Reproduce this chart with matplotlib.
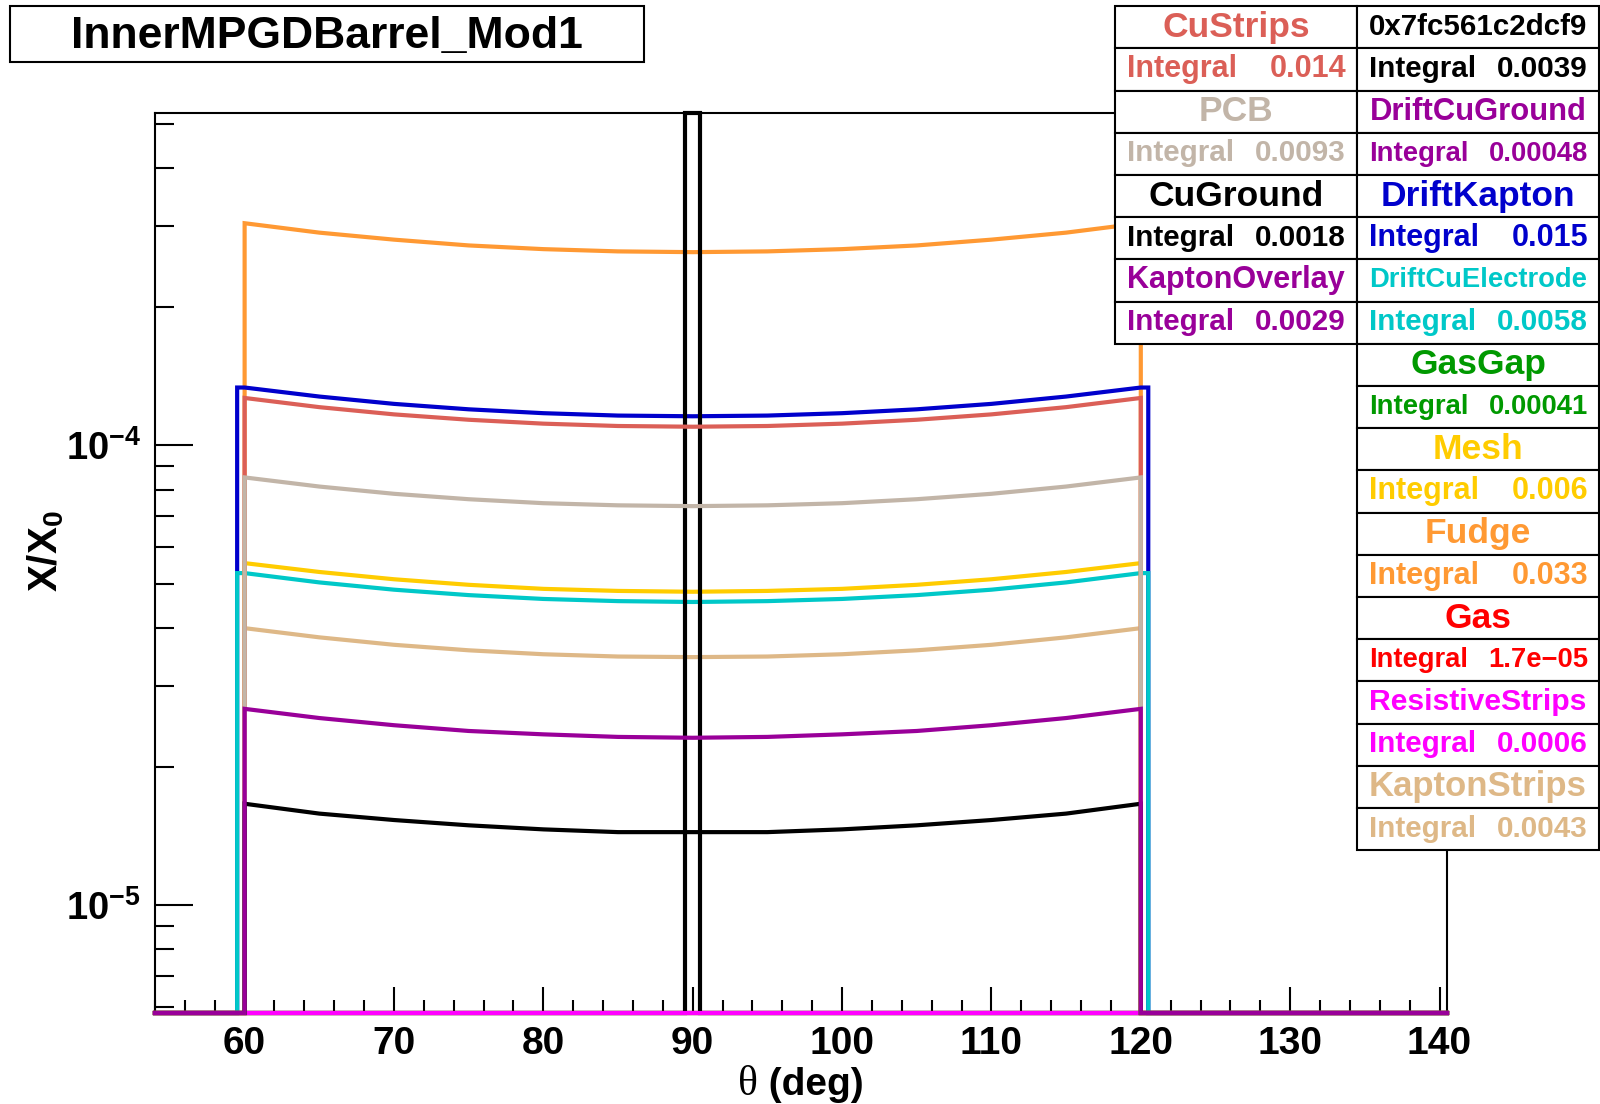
import numpy as np
import matplotlib
matplotlib.use("Agg")
import matplotlib.pyplot as plt
from matplotlib.patches import Rectangle
from matplotlib.ticker import LogLocator, NullFormatter, FuncFormatter, MultipleLocator

plt.rcParams['font.family'] = ['Liberation Sans', 'DejaVu Sans']
plt.rcParams['font.weight'] = 'bold'
plt.rcParams['mathtext.fontset'] = 'custom'
plt.rcParams['mathtext.bf'] = 'Liberation Sans:bold'
plt.rcParams['mathtext.rm'] = 'Liberation Sans:bold'
plt.rcParams['mathtext.it'] = 'Liberation Sans:bold'
plt.rcParams['mathtext.default'] = 'bf'

# ---- data (X/X0 per bin, theta in deg) ----
theta = [60, 65, 70, 75, 80, 85, 90, 95, 100, 105, 110, 115, 120]

fudge = [3.04e-4, 2.90e-4, 2.80e-4, 2.72e-4, 2.67e-4, 2.64e-4, 2.63e-4,
         2.64e-4, 2.67e-4, 2.72e-4, 2.80e-4, 2.90e-4, 3.04e-4]
drift_kapton = [1.335e-4, 1.276e-4, 1.230e-4, 1.197e-4, 1.174e-4, 1.160e-4, 1.156e-4,
                1.160e-4, 1.174e-4, 1.197e-4, 1.230e-4, 1.276e-4, 1.335e-4]
cu_strips = [1.267e-4, 1.210e-4, 1.167e-4, 1.136e-4, 1.114e-4, 1.101e-4, 1.097e-4,
             1.101e-4, 1.114e-4, 1.136e-4, 1.167e-4, 1.210e-4, 1.267e-4]
pcb = [8.51e-5, 8.13e-5, 7.84e-5, 7.63e-5, 7.48e-5, 7.40e-5, 7.37e-5,
       7.40e-5, 7.48e-5, 7.63e-5, 7.84e-5, 8.13e-5, 8.51e-5]
mesh = [5.54e-5, 5.30e-5, 5.11e-5, 4.97e-5, 4.87e-5, 4.82e-5, 4.80e-5,
        4.82e-5, 4.87e-5, 4.97e-5, 5.11e-5, 5.30e-5, 5.54e-5]
drift_cu_electrode = [5.27e-5, 5.03e-5, 4.85e-5, 4.72e-5, 4.63e-5, 4.58e-5, 4.56e-5,
                      4.58e-5, 4.63e-5, 4.72e-5, 4.85e-5, 5.03e-5, 5.27e-5]
kapton_strips = [4.00e-5, 3.82e-5, 3.68e-5, 3.58e-5, 3.51e-5, 3.47e-5, 3.46e-5,
                 3.47e-5, 3.51e-5, 3.58e-5, 3.68e-5, 3.82e-5, 4.00e-5]
kapton_overlay = [2.67e-5, 2.55e-5, 2.46e-5, 2.39e-5, 2.35e-5, 2.32e-5, 2.31e-5,
                  2.32e-5, 2.35e-5, 2.39e-5, 2.46e-5, 2.55e-5, 2.67e-5]
cu_ground = [1.66e-5, 1.58e-5, 1.53e-5, 1.49e-5, 1.46e-5, 1.44e-5, 1.44e-5,
             1.44e-5, 1.46e-5, 1.49e-5, 1.53e-5, 1.58e-5, 1.66e-5]
resistive_strips = [5.5e-6, 5.3e-6, 5.1e-6, 5.0e-6, 4.9e-6, 4.8e-6, 4.8e-6,
                    4.8e-6, 4.9e-6, 5.0e-6, 5.1e-6, 5.3e-6, 5.5e-6]
drift_cu_ground = [4.6e-6, 4.4e-6, 4.2e-6, 4.1e-6, 4.0e-6, 4.0e-6, 4.0e-6,
                   4.0e-6, 4.0e-6, 4.1e-6, 4.2e-6, 4.4e-6, 4.6e-6]
gas_gap = [3.9e-6, 3.7e-6, 3.6e-6, 3.5e-6, 3.4e-6, 3.4e-6, 3.4e-6,
           3.4e-6, 3.4e-6, 3.5e-6, 3.6e-6, 3.7e-6, 3.9e-6]
gas = [1.6e-7, 1.5e-7, 1.5e-7, 1.4e-7, 1.4e-7, 1.4e-7, 1.4e-7,
       1.4e-7, 1.4e-7, 1.4e-7, 1.5e-7, 1.5e-7, 1.6e-7]
# single-bin histogram at 90 deg
dcf9_bin = [89.5, 90.5]
dcf9_value = 0.0039

left_names = ["CuStrips", "PCB", "CuGround", "KaptonOverlay"]
right_names = ["0x7fc561c2dcf9", "DriftCuGround", "DriftKapton", "DriftCuElectrode",
               "GasGap", "Mesh", "Fudge", "Gas", "ResistiveStrips", "KaptonStrips"]
integrals = {"CuStrips": "0.014", "PCB": "0.0093", "CuGround": "0.0018",
             "KaptonOverlay": "0.0029", "0x7fc561c2dcf9": "0.0039",
             "DriftCuGround": "0.00048", "DriftKapton": "0.015",
             "DriftCuElectrode": "0.0058", "GasGap": "0.00041", "Mesh": "0.006",
             "Fudge": "0.033", "Gas": "1.7e\u221205", "ResistiveStrips": "0.0006",
             "KaptonStrips": "0.0043"}
colors = {"CuStrips": "#db5f57", "PCB": "#c2b5a8", "CuGround": "black",
          "KaptonOverlay": "#990099", "0x7fc561c2dcf9": "black",
          "DriftCuGround": "#990099", "DriftKapton": "#0000cc",
          "DriftCuElectrode": "#00c8c8", "GasGap": "#009900", "Mesh": "#ffcc00",
          "Fudge": "#ff9933", "Gas": "#ff0000", "ResistiveStrips": "#ff00ff",
          "KaptonStrips": "#deb887"}

# draw order, values, bin range
hists = [("Fudge", fudge, 60, 120),
         ("DriftKapton", drift_kapton, 59.5, 120.5),
         ("DriftCuElectrode", drift_cu_electrode, 59.5, 120.5),
         ("Mesh", mesh, 60, 120),
         ("KaptonStrips", kapton_strips, 60, 120),
         ("GasGap", gas_gap, 60, 120),
         ("DriftCuGround", drift_cu_ground, 60, 120),
         ("Gas", gas, 60, 120),
         ("0x7fc561c2dcf9", None, dcf9_bin[0], dcf9_bin[1]),
         ("ResistiveStrips", resistive_strips, 60, 120),
         ("CuStrips", cu_strips, 60, 120),
         ("PCB", pcb, 60, 120),
         ("CuGround", cu_ground, 60, 120),
         ("KaptonOverlay", kapton_overlay, 60, 120)]

W, H = 1600, 1104
XMIN, XMAX = 54.0, 140.5
YMIN, YMAX = 5.82e-6, 5.28e-4

def fx(px):
    return px / W

def fy(py):
    return 1 - py / H

fig = plt.figure(figsize=(W / 100, H / 100), dpi=100)
ax = fig.add_axes([fx(155), fy(1013), fx(1447) - fx(155), fy(113) - fy(1013)])
ax.set_yscale("log")
ax.set_xlim(XMIN, XMAX)
ax.set_ylim(YMIN, YMAX)

for name, vals, lo, hi in hists:
    if vals is None:
        x = [XMIN, lo, lo, hi, hi, XMAX]
        y = [0, 0, dcf9_value, dcf9_value, 0, 0]
    else:
        x = [XMIN, lo, lo] + list(theta) + [hi, hi, XMAX]
        y = [0, 0, vals[0]] + list(vals) + [vals[-1], 0, 0]
    y = np.clip(np.array(y, dtype=float), YMIN, YMAX)
    ax.plot(x, y, color=colors[name], lw=3, clip_on=False, zorder=3,
            solid_joinstyle="miter")

for sp in ax.spines.values():
    sp.set_linewidth(1.5)

ax.xaxis.set_major_locator(MultipleLocator(10))
ax.xaxis.set_minor_locator(MultipleLocator(2))
ax.yaxis.set_major_locator(LogLocator(base=10, numticks=10))
ax.yaxis.set_minor_locator(LogLocator(base=10, subs=np.arange(2, 10), numticks=20))
ax.yaxis.set_minor_formatter(NullFormatter())
ax.yaxis.set_major_formatter(FuncFormatter(lambda v, p: r"$10^{%d}$" % round(np.log10(v))))
ax.tick_params(axis="x", which="major", direction="in", length=19, width=1.5,
               labelsize=28, pad=9, top=False)
ax.tick_params(axis="x", which="minor", direction="in", length=9.6, width=1.5, top=False)
ax.tick_params(axis="y", which="major", direction="in", length=27, width=1.5,
               labelsize=27.5, pad=10, right=False)
ax.tick_params(axis="y", which="minor", direction="in", length=13.7, width=1.5, right=False)

renderer = fig.canvas.get_renderer()

def text_width(s, size, **kw):
    t = fig.text(0, 0, s, fontsize=size, **kw)
    w = t.get_window_extent(renderer).width
    t.remove()
    return w

# axis titles: serif theta followed by bold "(deg)"
xl_size = 28
w_th = text_width("\u03b8", 30, family="Liberation Serif", fontweight="normal")
w_rest = text_width(" (deg)", xl_size)
x_start = 801 - (w_th + w_rest) / 2
fig.text(fx(x_start), fy(1095), "\u03b8", ha="left", va="baseline", fontsize=30,
         family="Liberation Serif", fontweight="normal")
fig.text(fx(x_start + w_th), fy(1095), " (deg)", ha="left", va="baseline",
         fontsize=xl_size)
fig.text(fx(46), fy(551), "X/X$_{0}$", rotation=90, ha="center", va="center",
         fontsize=29)

# title box
fig.add_artist(Rectangle((fx(10), fy(62)), (644 - 10) / W, (62 - 6) / H,
                         transform=fig.transFigure, facecolor="white",
                         edgecolor="black", lw=1.5))
fig.text(fx(327), fy(48), "InnerMPGDBarrel_Mod1", ha="center", va="baseline",
         fontsize=32)

# stats boxes
ROW = 42.2
COLW = 242
TOP = 6.1

def row_box(x0, y0):
    fig.add_artist(Rectangle((fx(x0), fy(y0 + ROW)), COLW / W, ROW / H,
                             transform=fig.transFigure, facecolor="white",
                             edgecolor="black", lw=1.5, zorder=4))

def baseline(y0, size):
    em = size * 100 / 72
    return y0 + ROW / 2 + 0.358 * em - 3

def draw_column(names, x0):
    for i, name in enumerate(names):
        c = colors[name]
        y_name = TOP + 2 * i * ROW
        y_int = y_name + ROW
        row_box(x0, y_name)
        row_box(x0, y_int)
        s = min(25.5, 10 * 218 / text_width(name, 10))
        fig.text(fx(x0 + COLW / 2), fy(baseline(y_name, s)), name, ha="center",
                 va="baseline", fontsize=s, color=c, zorder=5)
        val = integrals[name]
        gap = 0.7 * 10 * 100 / 72
        s = min(22, 10 * 219 / (text_width("Integral", 10) + text_width(val, 10) + gap))
        yb = fy(baseline(y_int, s))
        fig.text(fx(x0 + 12), yb, "Integral", ha="left", va="baseline",
                 fontsize=s, color=c, zorder=5)
        fig.text(fx(x0 + COLW - 11), yb, val, ha="right", va="baseline",
                 fontsize=s, color=c, zorder=5)

draw_column(left_names, 1115)
draw_column(right_names, 1357)

fig.savefig("out.png", dpi=100)
